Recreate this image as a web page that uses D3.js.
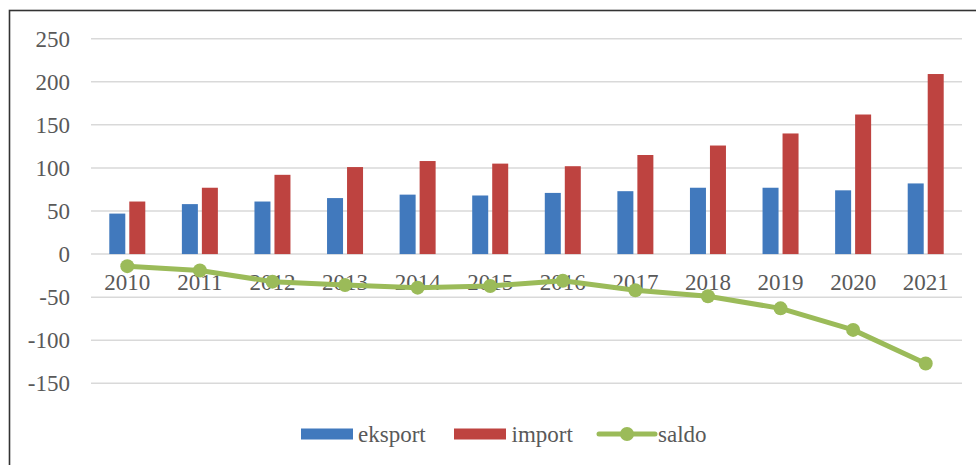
<!DOCTYPE html>
<html>
<head>
<meta charset="utf-8">
<script src="https://cdn.jsdelivr.net/npm/d3@7"></script>
<style>
  html, body { margin: 0; padding: 0; background: #fff; }
  svg { display: block; }
</style>
</head>
<body>
<svg id="chart" width="976" height="465"></svg>
<script>
const years = ["2010","2011","2012","2013","2014","2015","2016","2017","2018","2019","2020","2021"];
const eksport = [47, 58, 61, 65, 69, 68, 71, 73, 77, 77, 74, 82];
const importVals = [61, 77, 92, 101, 108, 105, 102, 115, 126, 140, 162, 209];
const saldo = [-14, -19, -32, -36, -39, -37, -31, -42, -49, -63, -88, -127];
const yTicks = [-150, -100, -50, 0, 50, 100, 150, 200, 250];
const seriesNames = ["eksport", "import", "saldo"];
const colors = { eksport: "#4179BD", import: "#BE4340", saldo: "#9BBB59" };

const svg = d3.select("#chart");
const font = "Liberation Serif, Times New Roman, serif";
const textColor = "#595959";

// frame
svg.append("rect")
  .attr("x", 9.5).attr("y", 10.5)
  .attr("width", 1000).attr("height", 500)
  .attr("fill", "none").attr("stroke", "#333").attr("stroke-width", 1.6);

const x = d3.scaleBand().domain(years).range([91, 962]);
const y = d3.scaleLinear().domain([-150, 250]).range([383.3, 38.7]);
const xSub = d3.scaleBand().domain(["eksport", "import"]).range([0, 36]).paddingInner(0.2);

// gridlines
svg.append("g").selectAll("line").data(yTicks).join("line")
  .attr("x1", 91).attr("x2", 962)
  .attr("y1", d => y(d)).attr("y2", d => y(d))
  .attr("stroke", "#D9D9D9").attr("stroke-width", 1.5);

// y axis labels
const yAxis = d3.axisLeft(y).tickValues(yTicks).tickSize(0).tickPadding(0)
  .tickFormat(d => String(d));
const gy = svg.append("g").attr("transform", "translate(70,0)").call(yAxis);
gy.select(".domain").remove();
gy.selectAll("text")
  .style("font-family", font).style("font-size", "23px")
  .attr("fill", textColor).attr("dy", "0.33em");

// bars
const groups = svg.append("g").selectAll("g").data(years).join("g")
  .attr("transform", d => `translate(${x(d) + x.bandwidth() / 2 - 18},0)`);
groups.append("rect")
  .attr("x", xSub("eksport")).attr("width", xSub.bandwidth())
  .attr("y", (d, i) => y(eksport[i])).attr("height", (d, i) => y(0) - y(eksport[i]))
  .attr("fill", colors.eksport);
groups.append("rect")
  .attr("x", xSub("import")).attr("width", xSub.bandwidth())
  .attr("y", (d, i) => y(importVals[i])).attr("height", (d, i) => y(0) - y(importVals[i]))
  .attr("fill", colors.import);

// x axis labels (at zero line)
const xAxis = d3.axisBottom(x).tickSize(0).tickPadding(0);
const gx = svg.append("g").attr("transform", `translate(0,${y(0)})`).call(xAxis);
gx.select(".domain").remove();
gx.selectAll("text")
  .style("font-family", font).style("font-size", "23px")
  .attr("fill", textColor).attr("dy", "1.55em").attr("y", 0);

// saldo line
const line = d3.line().x((d, i) => x(years[i]) + x.bandwidth() / 2).y(d => y(d));
svg.append("path").datum(saldo)
  .attr("d", line).attr("fill", "none")
  .attr("stroke", colors.saldo).attr("stroke-width", 5).attr("stroke-linejoin", "round");
svg.append("g").selectAll("circle").data(saldo).join("circle")
  .attr("cx", (d, i) => x(years[i]) + x.bandwidth() / 2)
  .attr("cy", d => y(d)).attr("r", 7)
  .attr("fill", colors.saldo);

// legend
const legend = svg.append("g");
const lx = [301, 454, 599];
const ltx = [358, 511.5, 658];
legend.append("rect").attr("x", lx[0]).attr("y", 428.5).attr("width", 52).attr("height", 11).attr("fill", colors.eksport);
legend.append("rect").attr("x", lx[1]).attr("y", 428.5).attr("width", 52).attr("height", 11).attr("fill", colors.import);
legend.append("line").attr("x1", lx[2]).attr("x2", lx[2] + 56).attr("y1", 434).attr("y2", 434)
  .attr("stroke", colors.saldo).attr("stroke-width", 5).attr("stroke-linecap", "round");
legend.append("circle").attr("cx", lx[2] + 28).attr("cy", 434).attr("r", 7).attr("fill", colors.saldo);
legend.selectAll("text").data(seriesNames).join("text")
  .attr("x", (d, i) => ltx[i]).attr("y", 441.5)
  .style("font-family", font).style("font-size", "23px").attr("fill", textColor)
  .text(d => d);
</script>
</body>
</html>
